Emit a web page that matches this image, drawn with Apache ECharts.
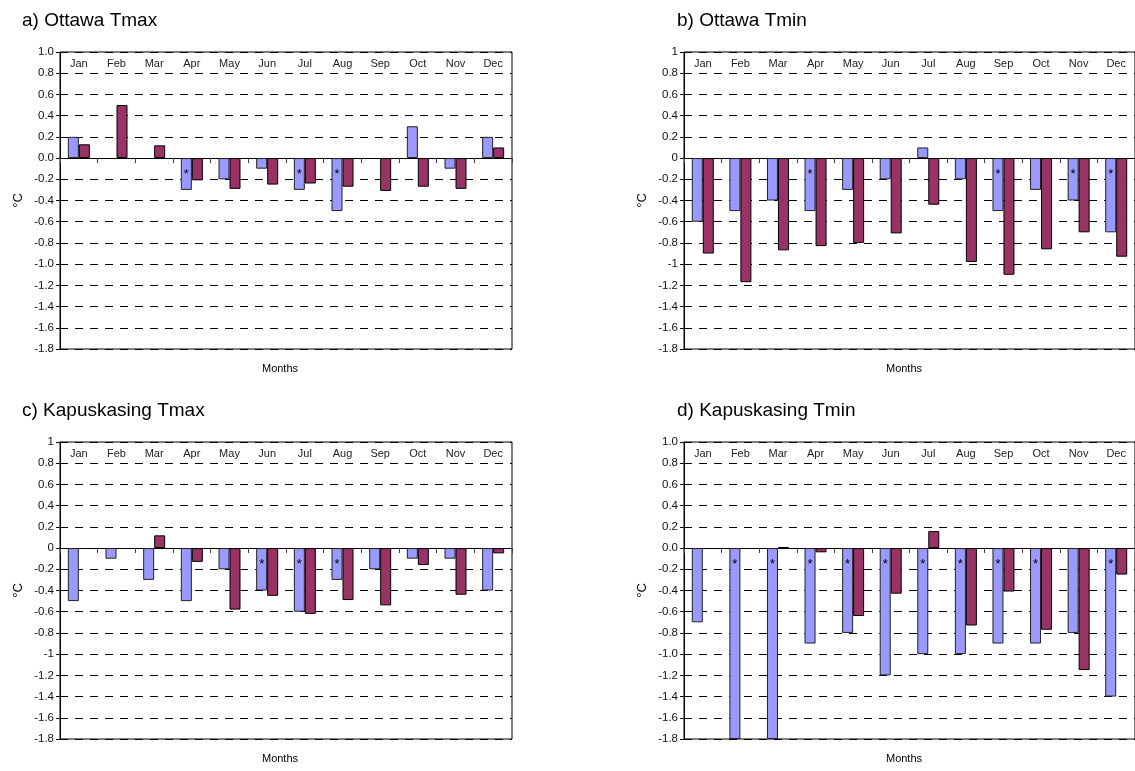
<!DOCTYPE html>
<html><head><meta charset="utf-8">
<script src="https://cdn.jsdelivr.net/npm/echarts@6/dist/echarts.min.js"></script>
<style>html,body{margin:0;padding:0;background:#fff}#c{width:1135px;height:771px}</style>
</head><body><div id="c"></div>
<script>
const months = ['Jan','Feb','Mar','Apr','May','Jun','Jul','Aug','Sep','Oct','Nov','Dec'];
const yTicks = {min: -1.8, max: 1.0, interval: 0.2};
const titles = ['a) Ottawa Tmax', 'b) Ottawa Tmin', 'c) Kapuskasing Tmax', 'd) Kapuskasing Tmin'];
const xName = 'Months';
const yName = '°C';

// a) Ottawa Tmax
const aBlue   = [0.2, null, null, -0.3, -0.2, -0.1, -0.3, -0.5, null, 0.3, -0.1, 0.2];
const aMaroon = [0.13, 0.5, 0.12, -0.21, -0.29, -0.25, -0.24, -0.27, -0.31, -0.27, -0.29, 0.1];
const aStars  = [0,0,0,1,0,0,1,1,0,0,0,0];
// b) Ottawa Tmin
const bBlue   = [-0.6, -0.5, -0.4, -0.5, -0.3, -0.2, 0.1, -0.2, -0.5, -0.3, -0.4, -0.7];
const bMaroon = [-0.9, -1.17, -0.87, -0.83, -0.8, -0.71, -0.44, -0.98, -1.1, -0.86, -0.7, -0.93];
const bStars  = [0,0,0,1,0,0,0,0,1,0,1,1];
// c) Kapuskasing Tmax
const cBlue   = [-0.5, -0.1, -0.3, -0.5, -0.2, -0.4, -0.6, -0.3, -0.2, -0.1, -0.1, -0.4];
const cMaroon = [null, null, 0.12, -0.13, -0.58, -0.45, -0.62, -0.49, -0.54, -0.16, -0.44, -0.05];
const cStars  = [0,0,0,0,0,1,1,1,0,0,0,0];
// d) Kapuskasing Tmin
const dBlue   = [-0.7, -1.8, -1.8, -0.9, -0.8, -1.2, -1.0, -1.0, -0.9, -0.9, -0.8, -1.4];
const dMaroon = [null, null, 0.01, -0.04, -0.64, -0.43, 0.16, -0.73, -0.41, -0.77, -1.15, -0.25];
const dStars  = [0,1,1,1,1,1,1,1,1,1,0,1];

const panels = [
  {blue: aBlue, maroon: aMaroon, stars: aStars, fixed: true},
  {blue: bBlue, maroon: bMaroon, stars: bStars, fixed: false},
  {blue: cBlue, maroon: cMaroon, stars: cStars, fixed: false},
  {blue: dBlue, maroon: dMaroon, stars: dStars, fixed: true}
];
const boxes = [
  {left: 60, top: 52, tx: 22}, {left: 684, top: 52, tx: 677},
  {left: 60, top: 442, tx: 22}, {left: 684, top: 442, tx: 677}
];
const W = 452, H = 297;
const FONT = 'Arial, "Liberation Sans", sans-serif';

const grid = [], xAxis = [], yAxis = [], series = [], graphic = [];
panels.forEach((p, i) => {
  const b = boxes[i];
  grid.push({left: b.left, top: b.top, width: W, height: H, show: true,
    borderColor: '#000', borderWidth: 1, backgroundColor: 'transparent'});
  xAxis.push({type: 'category', data: months, gridIndex: i, position: 'bottom',
    axisLine: {onZero: true, lineStyle: {color: '#000', width: 1}},
    axisTick: {show: true, length: 5, lineStyle: {color: '#444'}},
    axisLabel: {show: false}, splitLine: {show: false}});
  xAxis.push({type: 'category', data: months, gridIndex: i, position: 'top',
    axisLine: {show: false, onZero: false}, axisTick: {show: false},
    axisLabel: {inside: true, margin: 6, fontSize: 11, color: '#222', fontFamily: FONT},
    splitLine: {show: false}});
  yAxis.push({type: 'value', gridIndex: i, min: yTicks.min, max: yTicks.max, interval: yTicks.interval,
    axisLine: {show: true, lineStyle: {color: '#000'}},
    axisTick: {show: true, length: 4, lineStyle: {color: '#000'}},
    axisLabel: {fontSize: 11.5, color: '#111', fontFamily: FONT, margin: 6,
      formatter: v => p.fixed ? Number(v).toFixed(1) : String(Math.round(v * 10) / 10)},
    splitLine: {show: true, lineStyle: {color: '#000', type: [8, 7], width: 1}}});
  series.push({type: 'bar', xAxisIndex: 2 * i, yAxisIndex: i, barWidth: 11, barGap: '0%',
    itemStyle: {color: '#9999FF', borderColor: '#222', borderWidth: 1},
    label: {show: false},
    data: p.blue.map((v, k) => p.stars[k] ? {value: v, label: {show: true, position: 'insideTop',
      distance: 10, formatter: '*', fontSize: 13, color: '#000', fontFamily: FONT}} : v)});
  series.push({type: 'bar', xAxisIndex: 2 * i, yAxisIndex: i, barWidth: 11, barGap: '0%',
    itemStyle: {color: '#993366', borderColor: '#000', borderWidth: 1},
    data: p.maroon});
  graphic.push({type: 'text', left: b.tx, top: b.top - 41,
    style: {text: titles[i], font: '19px ' + FONT, fill: '#000'}});
  graphic.push({type: 'text', x: b.left + W / 2 - 6, y: b.top + H + 20,
    style: {text: xName, font: '11px ' + FONT, fill: '#000', textAlign: 'center', textVerticalAlign: 'middle'}});
  graphic.push({type: 'text', x: b.left - 42, y: b.top + H / 2, rotation: Math.PI / 2,
    style: {text: yName, font: '13px ' + FONT, fill: '#000', textAlign: 'center', textVerticalAlign: 'middle'}});
});

const chart = echarts.init(document.getElementById('c'), null, {renderer: 'canvas'});
chart.setOption({animation: false, backgroundColor: '#fff', grid, xAxis, yAxis, series, graphic});
</script></body></html>
